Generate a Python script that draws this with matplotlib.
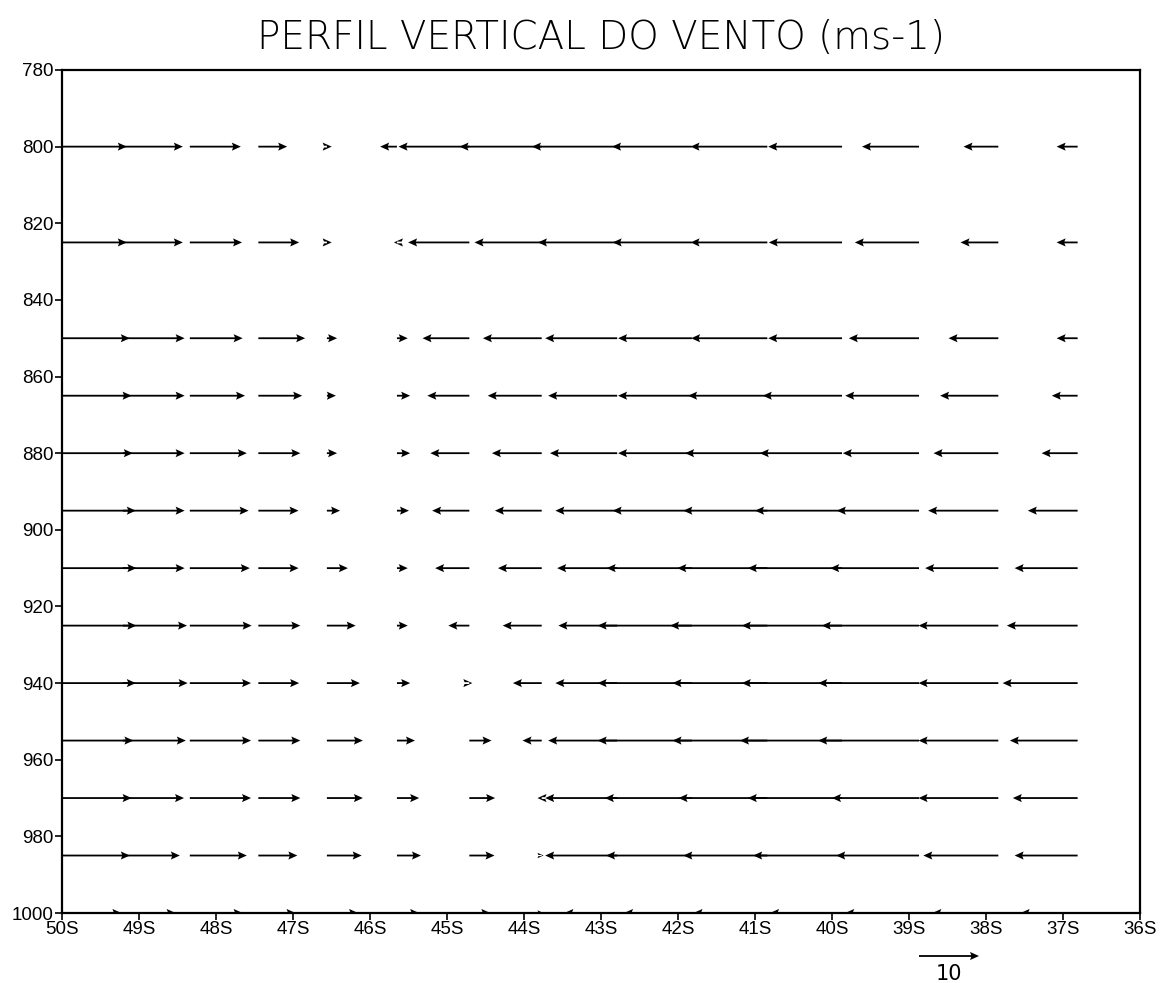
import numpy as np
import matplotlib
matplotlib.use('Agg')
import matplotlib.pyplot as plt

# grid point latitudes (negative = south), read from the arrow tails
lats = [-50.07, -49.21, -48.34, -47.45, -46.56, -45.65, -44.71, -43.77,
        -42.79, -41.82, -40.84, -39.87, -38.87, -37.84, -36.81]
levels = [800, 825, 850, 865, 880, 895, 910, 925, 940, 955, 970, 985, 1000]

# zonal wind (m/s) at each level, west -> east
u800 = [11.7, 10.0, 8.5, 4.8, 0.8, -2.8, -11.8, -13.7, -14.2, -13.3, -12.8, -12.3, -9.5, -5.8, -3.5]
u825 = [11.7, 10.0, 8.7, 6.8, 0.8, -0.5, -10.2, -11.2, -13.2, -13.2, -12.8, -12.2, -10.7, -6.3, -3.5]
u850 = [12.2, 10.3, 8.8, 7.8, 1.7, 1.8, -7.8, -9.8, -12.0, -12.3, -12.7, -12.3, -11.7, -8.3, -3.5]
u865 = [12.5, 10.3, 9.2, 7.3, 1.5, 2.2, -7.0, -9.0, -11.5, -12.3, -13.2, -13.2, -12.3, -9.7, -4.3]
u880 = [12.7, 10.3, 9.5, 7.0, 1.7, 2.2, -6.5, -8.3, -11.2, -12.3, -13.7, -13.7, -12.7, -10.8, -6.0]
u895 = [13.2, 10.3, 9.8, 6.7, 2.2, 2.0, -6.2, -7.8, -10.3, -13.2, -14.0, -14.5, -13.7, -11.7, -8.3]
u910 = [13.3, 10.3, 10.0, 6.7, 3.5, 1.8, -5.7, -7.3, -10.0, -14.2, -15.0, -15.7, -14.8, -12.2, -10.5]
u925 = [13.3, 10.7, 10.3, 7.0, 4.8, 1.8, -3.5, -6.5, -9.8, -15.7, -16.2, -16.7, -16.2, -13.3, -11.8]
u940 = [13.2, 10.8, 10.2, 6.8, 5.5, 2.2, 0.5, -4.8, -10.3, -15.7, -15.8, -16.7, -16.8, -13.3, -12.5]
u955 = [12.8, 10.5, 10.2, 7.0, 6.0, 3.0, 3.7, -3.2, -11.5, -15.7, -15.8, -17.0, -16.8, -13.3, -11.3]
u970 = [12.5, 10.2, 10.2, 7.0, 6.0, 3.7, 4.3, -0.7, -12.0, -14.5, -14.8, -15.7, -14.5, -13.3, -10.8]
u985 = [12.2, 9.5, 9.5, 6.5, 5.8, 4.0, 4.2, 0.3, -12.0, -14.3, -14.0, -14.8, -13.8, -12.5, -10.5]
u1000 = [10.8, 8.8, 8.8, 6.2, 5.2, 3.7, 3.5, 0.3, -8.8, -11.3, -12.3, -12.0, -12.3, -11.0, -9.5]

u = np.array([u800, u825, u850, u865, u880, u895, u910, u925,
              u940, u955, u970, u985, u1000])
w = np.zeros_like(u)

xticks = list(range(-50, -35))
xlabels = [f"{abs(t)}S" for t in xticks]
yticks = list(range(780, 1001, 20))

fig = plt.figure(figsize=(11.65, 9.83), dpi=100)
ax = fig.add_axes([62 / 1165, 70 / 983, 1078 / 1165, 843 / 983])

X, Y = np.meshgrid(lats, levels)
# 10 m/s drawn as ~60 px, one degree is ~77 px
q = ax.quiver(X, Y, u, w, angles='xy', scale_units='x', scale=77 / 6,
              pivot='tail', units='dots', width=1.8, headwidth=4.5,
              headlength=5, headaxislength=4.3, minshaft=0.3, minlength=0.2,
              color='black')

ax.set_xlim(-50, -36)
ax.set_ylim(1000, 780)
ax.set_xticks(xticks)
ax.set_xticklabels(xlabels, family='Liberation Sans', fontsize=13.5)
ax.set_yticks(yticks)
ax.set_yticklabels([str(t) for t in yticks], family='Liberation Sans', fontsize=13.5)
ax.tick_params(direction='out', length=5, width=1.2, pad=1)
for s in ax.spines.values():
    s.set_linewidth(1.6)

ax.quiverkey(q, X=949 / 1165, Y=1 - 956 / 983, U=10, label='10', labelpos='S',
             coordinates='figure', labelsep=0.08,
             fontproperties={'size': 15, 'family': 'DejaVu Sans'})

fig.text(601 / 1165, 1 - 38 / 983, 'PERFIL VERTICAL DO VENTO (ms-1)',
         ha='center', va='center', fontsize=28, family='DejaVu Sans',
         fontweight='light')

fig.savefig('out.png', dpi=100)
